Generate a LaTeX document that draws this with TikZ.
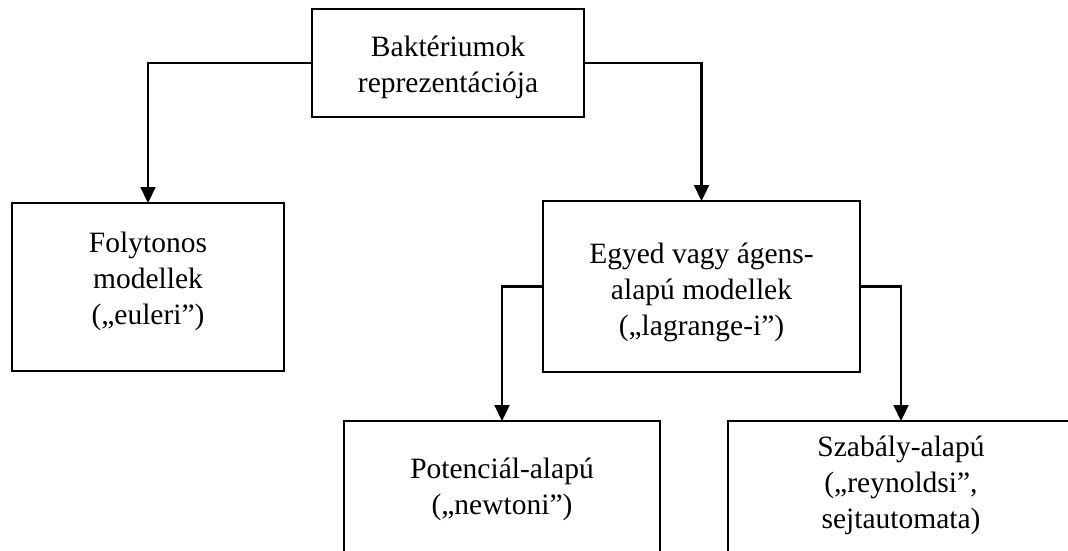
\documentclass[tikz,border=0pt]{standalone}
\usepackage{fontspec}
\setmainfont{Liberation Serif}
\usetikzlibrary{arrows.meta}
\begin{document}
\begin{tikzpicture}[x=1pt,y=-1pt,
  box/.style={draw, line width=2.2pt, rectangle, inner sep=0pt, outer sep=0pt},
  txt/.style={align=center, font=\fontsize{29.5}{36}\selectfont, inner sep=0pt},
  arr/.style={line width=2.2pt, -{Triangle[width=15pt,length=16pt]}}]
\useasboundingbox (0,0) rectangle (1068,550);
\clip (0,0) rectangle (1068,550);
\node[box, minimum width=272pt, minimum height=108pt] (top) at (448,63) {};
\node[box, minimum width=272pt, minimum height=168pt] (fol) at (148,287) {};
\node[box, minimum width=317pt, minimum height=171pt] (egy) at (701.5,286.5) {};
\node[box, minimum width=316pt, minimum height=169pt] (pot) at (502,505.5) {};
\node[box, minimum width=346pt, minimum height=169pt] (sza) at (901,505.5) {};
\node[txt] (ttop) at (448,67) {Baktériumok\\reprezentációja};
\node[txt] (tfol) at (148,281) {Folytonos\\modellek\\(„euleri”)};
\node[txt] (tegy) at (701.5,292) {Egyed vagy ágens-\\alapú modellek\\(„lagrange-i”)};
\node[txt] (tpot) at (502,489) {Potenciál-alapú\\(„newtoni”)};
\node[txt] (tsza) at (901,485) {Szabály-alapú\\(„reynoldsi”,\\sejtautomata)};
\draw[arr] (top.west) -| (fol.north);
\draw[arr] (top.east) -| (egy.north);
\draw[arr] (egy.west) -| (pot.north);
\draw[arr] (egy.east) -| (sza.north);
\end{tikzpicture}
\end{document}
